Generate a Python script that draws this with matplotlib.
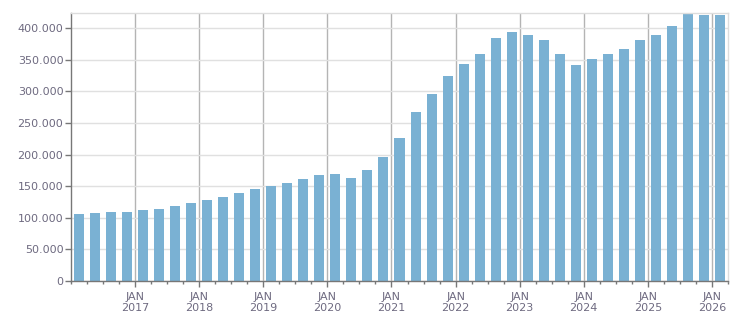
import matplotlib
matplotlib.use("Agg")
import matplotlib.pyplot as plt
from matplotlib.ticker import FuncFormatter, FixedLocator

# quarterly values, 2016 Q1 .. 2026 Q1
quarters = [f"{y}Q{q}" for y in range(2016, 2026) for q in range(1, 5)] + ["2026Q1"]
values = [
    105800, 107400, 109000, 109000, 112200, 113800, 118500, 123300,
    128000, 132800, 139200, 145500, 150300, 155000, 161400, 167700,
    169300, 163000, 175700, 196300, 226400, 267500, 296000, 324500,
    343500, 359400, 384700, 394200, 389400, 381500, 359400, 342000,
    351500, 359400, 367300, 381500, 389400, 403700, 422700, 421100,
    421100,
]
years = list(range(2017, 2027))
yticks = [0, 50000, 100000, 150000, 200000, 250000, 300000, 350000, 400000]

bar_color = "#7ab1d3"
text_color = "#6e6a80"

# x position = middle of each quarter, in fractional years
xpos = [int(q[:4]) + (int(q[-1]) - 0.5) * 0.25 for q in quarters]

fig = plt.figure(figsize=(7.51, 3.13), dpi=100)
ax = fig.add_axes([71 / 751, 32.3 / 313, 657 / 751, 267.4 / 313])

ax.bar(xpos, values, width=0.25 * 10 / 16, color=bar_color, zorder=2)

ax.set_xlim(2016, 2026.25)
ax.set_ylim(0, 423800)

ax.set_yticks(yticks)
ax.yaxis.set_major_formatter(FuncFormatter(lambda v, p: f"{int(v):,}".replace(",", ".")))
ax.set_xticks(years)
ax.set_xticklabels([f"JAN\n{y}" for y in years])
ax.xaxis.set_minor_locator(FixedLocator([2016 + i * 0.25 for i in range(42)]))

ax.grid(axis="y", color="#e0e0e0", linewidth=1, zorder=0)
ax.grid(axis="x", which="major", color="#b4b4b4", linewidth=1, zorder=0)

ax.tick_params(axis="both", which="major", direction="out", length=4, width=1,
               color="#777777", labelcolor=text_color, labelsize=8)
ax.tick_params(axis="x", which="minor", direction="out", length=2.5, width=1, color="#777777")
ax.tick_params(axis="x", which="major", pad=4)
ax.tick_params(axis="y", which="major", pad=1.5)

for s in ["left", "bottom"]:
    ax.spines[s].set_color("#777777")
    ax.spines[s].set_linewidth(1)
for s in ["top", "right"]:
    ax.spines[s].set_color("#dddddd")
    ax.spines[s].set_linewidth(1)

fig.savefig("out.png", dpi=100)
